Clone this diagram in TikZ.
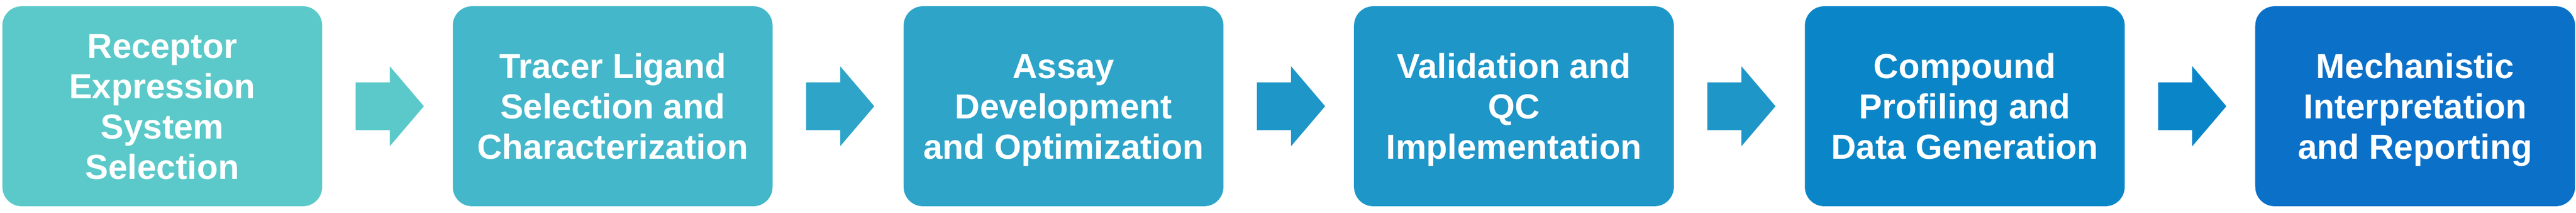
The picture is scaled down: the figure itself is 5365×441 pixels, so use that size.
\documentclass[tikz,border=0pt]{standalone}
\usepackage{fontspec}
\setmainfont{Liberation Sans}
\definecolor{c1}{HTML}{5BC9C9}
\definecolor{c2}{HTML}{45B7CA}
\definecolor{c3}{HTML}{2EA4C9}
\definecolor{c4}{HTML}{1E96C8}
\definecolor{c5}{HTML}{0A86C8}
\definecolor{c6}{HTML}{0B70C8}
\newcommand{\sline}[1]{\smash{#1}}
\newcommand{\fline}[1]{\rule{0pt}{12.9pt}\smash{#1}}
\tikzset{
  stepbox/.style={rectangle, rounded corners=10pt, minimum width=166.5pt, minimum height=103.75pt,
    inner sep=0pt, text=white, align=center, font=\fontsize{18}{21}\selectfont\bfseries}
}
\newcommand{\flowarr}[2]{%
  \fill[#2] ([xshift=17.25pt,yshift=12.375pt]#1.east) -- ++(17.75pt,0) -- ++(0,8.375pt)
    -- ++(17.75pt,-20.75pt) -- ++(-17.75pt,-20.75pt) -- ++(0,8.375pt) -- ++(-17.75pt,0) -- cycle;}
\begin{document}
\begin{tikzpicture}[x=0.25pt,y=-0.25pt]
\useasboundingbox (0,0) rectangle (5365,441);
\node[stepbox, fill=c1] (b1) at (338,220.5) {\fline{Receptor}\\\sline{Expression}\\\sline{System}\\\sline{Selection}};
\node[stepbox, fill=c2] (b2) at (1276,220.5) {\fline{Tracer Ligand}\\\sline{Selection and}\\\sline{Characterization}};
\node[stepbox, fill=c3] (b3) at (2215,220.5) {\fline{Assay}\\\sline{Development}\\\sline{and Optimization}};
\node[stepbox, fill=c4] (b4) at (3153,220.5) {\fline{Validation and}\\\sline{QC}\\\sline{Implementation}};
\node[stepbox, fill=c5] (b5) at (4092,220.5) {\fline{Compound}\\\sline{Profiling and}\\\sline{Data Generation}};
\node[stepbox, fill=c6] (b6) at (5030,220.5) {\fline{Mechanistic}\\\sline{Interpretation}\\\sline{and Reporting}};
\flowarr{b1}{c1}
\flowarr{b2}{c3}
\flowarr{b3}{c4}
\flowarr{b4}{c4}
\flowarr{b5}{c5}
\end{tikzpicture}
\end{document}
